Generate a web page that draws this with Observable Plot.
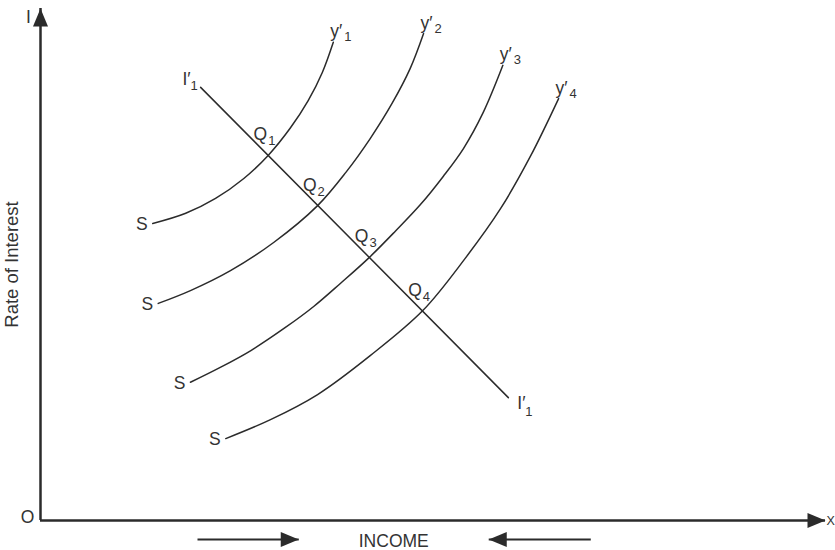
<!DOCTYPE html>
<html>
<head>
<meta charset="utf-8">
<script src="https://cdn.jsdelivr.net/npm/d3@7"></script>
<script src="https://cdn.jsdelivr.net/npm/@observablehq/plot@0.6"></script>
<style>
  html, body { margin: 0; padding: 0; background: #fff; }
  #chart svg { display: block; }
</style>
</head>
<body>
<div id="chart"></div>
<script>
// Saving curves S–y′1 … S–y′4: income and rate of interest along each curve
const curveNames = ["1", "2", "3", "4"];
const savingIncome = [
  [14.3, 18.5, 22.3, 25.9, 29.0, 31.8, 34.1, 35.9, 37.3],
  [15.0, 19.1, 24.2, 29.7, 35.3, 38.9, 42.0, 44.8, 47.1, 48.8],
  [19.1, 22.9, 26.8, 31.2, 34.8, 38.2, 41.9, 45.2, 48.4, 51.3, 53.9, 56.4, 58.9],
  [23.6, 29.3, 35.3, 42.0, 48.7, 54.1, 58.6, 62.4, 66.0]
];
const savingRate = [
  [58.0, 60.0, 62.9, 66.8, 71.3, 76.6, 82.0, 87.5, 93.4],
  [42.4, 44.9, 48.8, 54.3, 61.5, 68.0, 74.6, 81.5, 88.3, 95.1],
  [27.0, 29.9, 33.2, 37.7, 41.8, 46.3, 51.4, 56.5, 61.7, 67.2, 72.7, 79.7, 88.9],
  [16.0, 19.7, 24.6, 32.2, 41.0, 51.2, 60.9, 71.1, 82.4]
];

// Investment line I′1
const investIncome = [20.4, 59.6];
const investRate = [84.6, 24.0];

// Equilibrium points Q1 … Q4
const eqIncome = [29.0, 35.3, 41.9, 48.7];
const eqRate = [71.3, 61.5, 51.4, 41.0];

// Direction arrows drawn under the income axis
const arrowFrom = [20.0, 70.1];
const arrowTo = [32.9, 57.1];

const xDomain = [0, 100];
const yDomain = [0, 100];

const ink = "#2b2b2b";
const textInk = "#333";
const mainSize = 17.5;
const subSize = 13;

// Filled arrowheads whose tip sits on the anchor point
const headLen = 18, headHalf = 7.5;
const headRight = {draw(ctx) { ctx.moveTo(0, 0); ctx.lineTo(-headLen, -headHalf); ctx.lineTo(-headLen, headHalf); ctx.closePath(); }};
const headLeft = {draw(ctx) { ctx.moveTo(0, 0); ctx.lineTo(headLen, -headHalf); ctx.lineTo(headLen, headHalf); ctx.closePath(); }};
const headUp = {draw(ctx) { ctx.moveTo(0, 0); ctx.lineTo(-headHalf, headLen); ctx.lineTo(headHalf, headLen); ctx.closePath(); }};

const curveRows = savingIncome.flatMap((xs, i) =>
  xs.map((x, j) => ({curve: curveNames[i], income: x, rate: savingRate[i][j]})));
const curveStarts = savingIncome.map((xs, i) => ({curve: curveNames[i], income: xs[0], rate: savingRate[i][0]}));
const curveEnds = savingIncome.map((xs, i) => ({curve: curveNames[i], income: xs[xs.length - 1], rate: savingRate[i][xs.length - 1]}));
const investRows = investIncome.map((x, i) => ({income: x, rate: investRate[i]}));
const eqRows = eqIncome.map((x, i) => ({name: curveNames[i], income: x, rate: eqRate[i]}));
const arrowRows = arrowFrom.map((f, i) => ({from: f, to: arrowTo[i]}));

const xMax = xDomain[1], yMax = yDomain[1];
const yMid = (yDomain[0] + yDomain[1]) / 2;
const incomeMid = (arrowTo[0] + arrowTo[1]) / 2;

const chart = Plot.plot({
  width: 835,
  height: 550,
  marginLeft: 40,
  marginRight: 10,
  marginTop: 8,
  marginBottom: 30,
  x: {domain: xDomain, axis: null},
  y: {domain: yDomain, axis: null},
  style: {fontFamily: "'Liberation Sans', Arial, sans-serif", fontSize: mainSize + "px", color: textInk, background: "#fff"},
  marks: [
    // axes
    Plot.ruleX([0], {y1: 0, y2: yMax, stroke: ink, strokeWidth: 2.5}),
    Plot.ruleY([0], {x1: 0, x2: xMax, stroke: ink, strokeWidth: 2.5}),
    Plot.dot([{x: 0, y: yMax}], {x: "x", y: "y", symbol: headUp, r: 1, fill: ink, stroke: "none"}),
    Plot.dot([{x: xMax, y: 0}], {x: "x", y: "y", symbol: headRight, r: 1, fill: ink, stroke: "none"}),

    // saving curves and the investment line
    Plot.line(curveRows, {x: "income", y: "rate", z: "curve", curve: "catmull-rom", stroke: ink, strokeWidth: 1.5}),
    Plot.line(investRows, {x: "income", y: "rate", stroke: ink, strokeWidth: 1.5}),

    // curve labels
    Plot.text(curveStarts, {x: "income", y: "rate", text: () => "S", textAnchor: "end", lineAnchor: "middle", dx: -5, dy: 1}),
    Plot.text(curveEnds, {x: "income", y: "rate", text: () => "y′", textAnchor: "start", lineAnchor: "bottom", dx: -3, dy: -5}),
    Plot.text(curveEnds, {x: "income", y: "rate", text: "curve", textAnchor: "start", lineAnchor: "bottom", dx: 11, dy: -1, fontSize: subSize}),

    // equilibrium labels
    Plot.text(eqRows, {x: "income", y: "rate", text: () => "Q", textAnchor: "end", lineAnchor: "bottom", dx: -1, dy: -15}),
    Plot.text(eqRows, {x: "income", y: "rate", text: "name", textAnchor: "start", lineAnchor: "bottom", dx: 0, dy: -10, fontSize: subSize}),

    // investment line labels
    Plot.text(investRows.slice(0, 1), {x: "income", y: "rate", text: () => "I′", textAnchor: "end", lineAnchor: "bottom", dx: -10, dy: -2}),
    Plot.text(investRows.slice(0, 1), {x: "income", y: "rate", text: () => "1", textAnchor: "end", lineAnchor: "bottom", dx: -3, dy: 3, fontSize: subSize}),
    Plot.text(investRows.slice(1), {x: "income", y: "rate", text: () => "I′", textAnchor: "start", lineAnchor: "bottom", dx: 9, dy: 11}),
    Plot.text(investRows.slice(1), {x: "income", y: "rate", text: () => "1", textAnchor: "start", lineAnchor: "bottom", dx: 17, dy: 18, fontSize: subSize}),

    // axis letters and titles
    Plot.text(["I"], {x: 0, y: yMax, text: d => d, textAnchor: "middle", lineAnchor: "bottom", dx: -12, dy: 14}),
    Plot.text(["O"], {x: 0, y: 0, text: d => d, textAnchor: "middle", lineAnchor: "bottom", dx: -13, dy: 2}),
    Plot.text(["X"], {x: xMax, y: 0, text: d => d, textAnchor: "start", lineAnchor: "middle", dx: 1, fontSize: 12.5}),
    Plot.text(["Rate of Interest"], {x: 0, y: yMid, text: d => d, rotate: -90, textAnchor: "middle", lineAnchor: "middle", dx: -28, fontSize: 18.5}),
    Plot.text(["INCOME"], {x: incomeMid, y: 0, text: d => d, textAnchor: "middle", lineAnchor: "bottom", dy: 26}),

    // income direction arrows
    Plot.link(arrowRows, {x1: "from", x2: "to", y1: 0, y2: 0, dy: 19, stroke: ink, strokeWidth: 2}),
    Plot.dot(arrowRows.slice(0, 1), {x: "to", y: () => 0, dy: 19, symbol: headRight, r: 1, fill: ink, stroke: "none"}),
    Plot.dot(arrowRows.slice(1), {x: "to", y: () => 0, dy: 19, symbol: headLeft, r: 1, fill: ink, stroke: "none"})
  ]
});

document.getElementById("chart").appendChild(chart);
</script>
</body>
</html>
